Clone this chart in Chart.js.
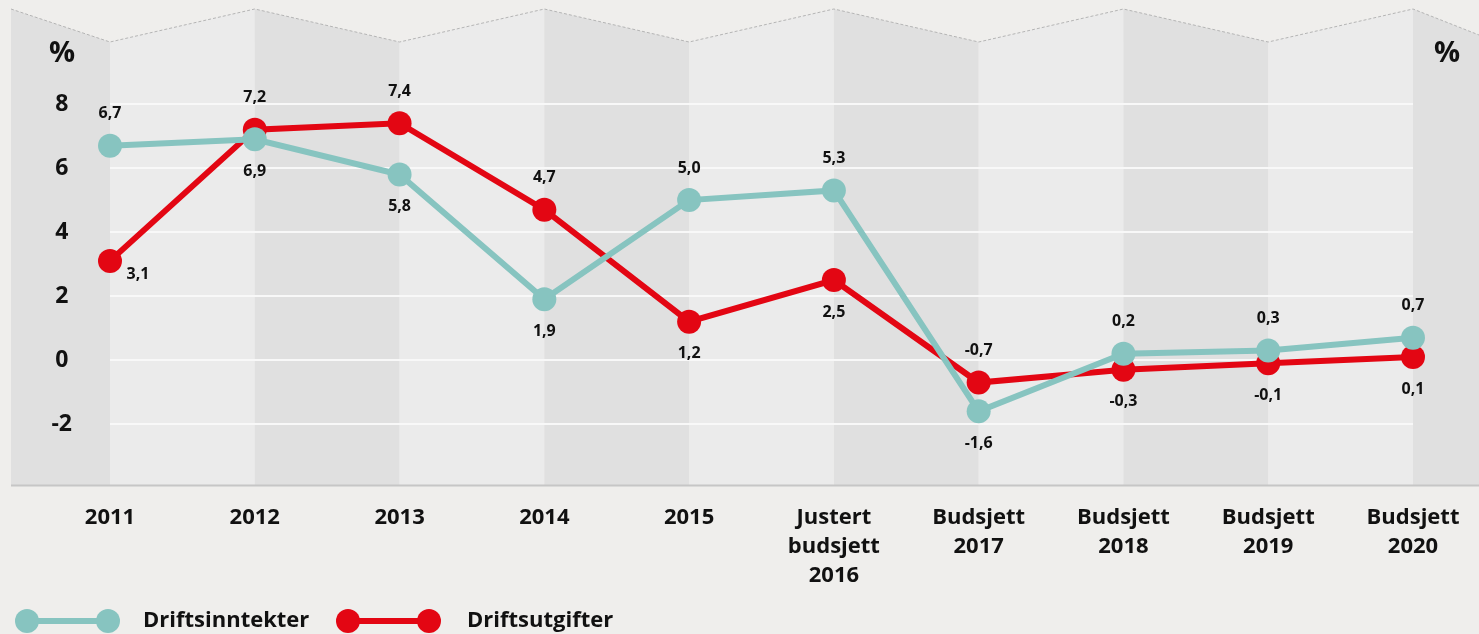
<!DOCTYPE html>
<html>
<head>
<meta charset="utf-8">
<script src="https://cdn.jsdelivr.net/npm/chart.js@4.4.0/dist/chart.umd.min.js"></script>
<style>
html,body{margin:0;padding:0;background:#efeeec;}
#wrap{width:1479px;height:634px;position:relative;}
</style>
</head>
<body>
<div id="wrap"><canvas id="chart"></canvas></div>
<script>
// data
const categories=["2011","2012","2013","2014","2015",["Justert","budsjett","2016"],["Budsjett","2017"],["Budsjett","2018"],["Budsjett","2019"],["Budsjett","2020"]];
const driftsinntekter=[6.7,6.9,5.8,1.9,5.0,5.3,-1.6,0.2,0.3,0.7];
const driftsutgifter=[3.1,7.2,7.4,4.7,1.2,2.5,-0.7,-0.3,-0.1,0.1];
const yTicks=[-2,0,2,4,6,8];
const seriesNames=["Driftsinntekter","Driftsutgifter"];

const TEAL="#87c4c0", RED="#e30613";
const FONT="'Open Sans', 'Noto Sans', sans-serif";

const fmt=v=>v.toFixed(1).replace(".",",");

// folded paper background
const paperPlugin={
    id:"paper",
    beforeDraw(chart){
        const ctx=chart.ctx, area=chart.chartArea, xs=chart.scales.x;
        const left=area.left-99, right=chart.width, bottom=area.bottom;
        const peak=9, valley=42;
        let pts=[{x:left,y:peak}];
        for(let i=0;i<categories.length;i++){
            pts.push({x:xs.getPixelForValue(i),y:i%2==0?valley:peak});
        }
        pts.push({x:right,y:35});
        ctx.save();
        for(let k=0;k<pts.length-1;k++){
            let a=pts[k],b=pts[k+1];
            ctx.beginPath();
            ctx.moveTo(a.x,a.y);
            ctx.lineTo(b.x,b.y);
            ctx.lineTo(b.x,bottom);
            ctx.lineTo(a.x,bottom);
            ctx.closePath();
            ctx.fillStyle=k%2==0?"#e0e0e0":"#ebebeb";
            ctx.fill();
        }
        ctx.beginPath();
        pts.forEach((p,i)=>i==0?ctx.moveTo(p.x,p.y):ctx.lineTo(p.x,p.y));
        ctx.strokeStyle="#b4b4b4";
        ctx.lineWidth=1;
        ctx.setLineDash([3,2]);
        ctx.stroke();
        ctx.setLineDash([]);
        ctx.beginPath();
        ctx.moveTo(left,bottom+0.5);
        ctx.lineTo(right,bottom+0.5);
        ctx.strokeStyle="#c6c6c6";
        ctx.lineWidth=2;
        ctx.stroke();
        ctx.restore();
    }
};

// value labels, higher series above the point, lower one below
const valueLabels={
    id:"valueLabels",
    afterDatasetsDraw(chart){
        const ctx=chart.ctx;
        ctx.save();
        ctx.font="bold 16px "+FONT;
        ctx.fillStyle="#111";
        ctx.textAlign="center";
        ctx.textBaseline="middle";
        chart.data.datasets.forEach((ds,d)=>{
            const meta=chart.getDatasetMeta(d);
            const other=chart.data.datasets[1-d].data;
            ds.data.forEach((v,i)=>{
                const p=meta.data[i];
                let above=v>other[i];
                let x=p.x, y=above?p.y-32:p.y+32;
                if(i==0&&!above){x+=28;y=p.y+14;}
                ctx.fillText(fmt(v),x,y);
            });
        });
        ctx.restore();
    }
};

// % units and legend
const extras={
    id:"extras",
    afterDraw(chart){
        const ctx=chart.ctx;
        ctx.save();
        ctx.fillStyle="#111";
        ctx.textBaseline="middle";
        ctx.textAlign="center";
        ctx.font="bold 29px "+FONT;
        ctx.fillText("%",62,54);
        ctx.fillText("%",1447,54);
        const items=[{x:27,tx:143},{x:348,tx:467}];
        chart.data.datasets.forEach((ds,d)=>{
            const it=items[d], y=621;
            ctx.strokeStyle=ds.borderColor;
            ctx.lineWidth=6;
            ctx.beginPath();
            ctx.moveTo(it.x,y);ctx.lineTo(it.x+81,y);ctx.stroke();
            ctx.fillStyle=ds.borderColor;
            [it.x,it.x+81].forEach(cx=>{ctx.beginPath();ctx.arc(cx,y,12,0,Math.PI*2);ctx.fill();});
            ctx.fillStyle="#111";
            ctx.textAlign="left";
            ctx.font="bold 22px "+FONT;
            ctx.fillText(ds.label,it.tx,y);
        });
        ctx.restore();
    }
};

const chart=new Chart(document.getElementById("chart"),{
    type:"line",
    data:{
        labels:categories,
        datasets:[
            {label:seriesNames[0],data:driftsinntekter,borderColor:TEAL,backgroundColor:TEAL,borderWidth:6,pointRadius:12,pointHoverRadius:12,pointBorderWidth:0,tension:0},
            {label:seriesNames[1],data:driftsutgifter,borderColor:RED,backgroundColor:RED,borderWidth:6,pointRadius:12,pointHoverRadius:12,pointBorderWidth:0,tension:0}
        ]
    },
    options:{
        responsive:true,
        maintainAspectRatio:false,
        animation:false,
        devicePixelRatio:1,
        layout:{padding:{top:40,right:66,left:0,bottom:0}},
        plugins:{legend:{display:false},tooltip:{enabled:false}},
        scales:{
            x:{
                offset:false,
                grid:{display:false,drawTicks:false},
                border:{display:false},
                ticks:{padding:18,color:"#111",font:{family:FONT,size:22,weight:"bold",lineHeight:1.32},maxRotation:0,autoSkip:false},
                afterFit(s){s.height=149;}
            },
            y:{
                min:-3.9,
                max:10,
                grid:{color:"#f8f8f8",lineWidth:2,drawTicks:false},
                border:{display:false},
                ticks:{crossAlign:"center",padding:38,color:"#111",font:{family:FONT,size:23,weight:"bold"},callback:v=>String(v)},
                afterBuildTicks(s){s.ticks=yTicks.map(v=>({value:v}));},
                afterFit(s){s.width=110;s.paddingTop=0;s.paddingBottom=0;}
            }
        }
    },
    plugins:[paperPlugin,valueLabels,extras]
});
</script>
</body>
</html>
